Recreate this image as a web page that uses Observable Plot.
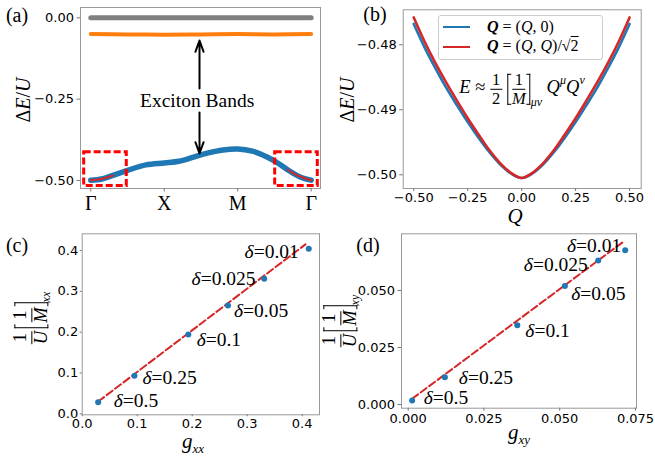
<!DOCTYPE html>
<html><head><meta charset="utf-8">
<script src="https://cdn.jsdelivr.net/npm/d3@7"></script>
<script src="https://cdn.jsdelivr.net/npm/@observablehq/plot@0.6"></script>
<style>
html,body{margin:0;padding:0;background:#fff;}
#fig{position:relative;width:655px;height:456px;background:#fff;overflow:hidden;}
#fig > svg{position:absolute;}
.ov{position:absolute;font-family:"Liberation Serif",serif;color:#000;white-space:nowrap;line-height:1;}
.c{transform:translate(-50%,-50%);}
.rot{transform:translate(-50%,-50%) rotate(-90deg);}
.frac{display:inline-flex;flex-direction:column;align-items:center;vertical-align:middle;}
.frac>span{line-height:0.95;}
.frac>span:first-child{border-bottom:1px solid #000;padding:0 2px 1px;}
.frac>span:last-child{padding-top:1px;}
.br{display:inline-block;width:4px;vertical-align:middle;border:1.2px solid #000;box-sizing:border-box;}
.br.l{border-right:none;margin-right:1px;}
.br.r{border-left:none;margin-left:1px;}
</style></head><body><div id="fig"></div>
<script>
// ---------------- data ----------------
// (a) exciton bands along Γ-X-M-Γ (path parameter 0..3)
const bandT = [0, 0.15, 0.3, 0.5, 0.75, 1.0, 1.2, 1.4, 1.6, 1.8, 2.0, 2.2, 2.4, 2.55, 2.7, 2.85, 3.0];
const bandE = [-0.499, -0.4955, -0.4845, -0.469, -0.452, -0.446, -0.441, -0.428, -0.415, -0.406, -0.403, -0.410, -0.428, -0.447, -0.470, -0.489, -0.499];
const orangeT = [0, 0.5, 1, 1.5, 2, 2.5, 3];
const orangeE = [-0.050, -0.051, -0.052, -0.051, -0.050, -0.051, -0.050];
const grayT = [0, 3];
const grayE = [0, 0];
const fitLT = [0, 0.1, 0.2, 0.3];
const fitLE = [-0.499, -0.4972, -0.4917, -0.4845];
const fitRT = [2.68, 2.8, 2.9, 3.0];
const fitRE = [-0.467, -0.483, -0.4925, -0.499];
const kTickPos = [0, 1, 2, 3];
const kTickLabels = ["Γ", "X", "M", "Γ"];
const yTicksA = [0, -0.25, -0.5];

// (b) dispersion near Γ
const qVals = [-0.5, -0.45, -0.4, -0.35, -0.3, -0.25, -0.2, -0.15, -0.1, -0.05, 0, 0.05, 0.1, 0.15, 0.2, 0.25, 0.3, 0.35, 0.4, 0.45, 0.5];
const eQ0 = [-0.4768, -0.4804, -0.4836, -0.4866, -0.4893, -0.4919, -0.4943, -0.4965, -0.4984, -0.4998, -0.5005, -0.4998, -0.4984, -0.4965, -0.4943, -0.4919, -0.4893, -0.4866, -0.4836, -0.4804, -0.4768];
const eQQ = [-0.4758, -0.4795, -0.4828, -0.4858, -0.4886, -0.4913, -0.4938, -0.4962, -0.4982, -0.4997, -0.5005, -0.4997, -0.4982, -0.4962, -0.4938, -0.4913, -0.4886, -0.4858, -0.4828, -0.4795, -0.4758];
const xTicksB = [-0.5, -0.25, 0, 0.25, 0.5];
const yTicksB = [-0.48, -0.49, -0.50];

// (c),(d) inverse mass vs g
const deltas = ["0.5", "0.25", "0.1", "0.05", "0.025", "0.01"];
const gxx = [0.029, 0.095, 0.193, 0.265, 0.331, 0.412];
const mxx = [0.028, 0.093, 0.194, 0.265, 0.331, 0.404];
const gxy = [0.0013, 0.0121, 0.036, 0.0517, 0.0627, 0.0716];
const mxy = [0.0018, 0.012, 0.0348, 0.052, 0.0632, 0.0677];
const fitXXx = [0.029, 0.406];
const fitXXy = [0.030, 0.415];
const fitXYx = [0.0013, 0.0711];
const fitXYy = [0.0025, 0.0715];
const ticksC = [0, 0.1, 0.2, 0.3, 0.4];
const xTicksD = [0, 0.025, 0.05, 0.075];
const yTicksD = [0, 0.025, 0.05];

// ---------------- helpers ----------------
const zip = (xs, ys) => xs.map((x, i) => ({x, y: ys[i]}));
const fig = document.getElementById("fig");
const baseStyle = {fontFamily: "DejaVu Sans, sans-serif", fontSize: "13px", background: "transparent", color: "#000", overflow: "visible"};
function place(svg, l, t) { svg.style.left = l + "px"; svg.style.top = t + "px"; fig.appendChild(svg); return svg; }
const serif = "Liberation Serif, serif";
const FRAME = "#999";
const TICK = "#777";

function deltaLabels(xs, ys, dxs, dys, anchors) {
  return deltas.map((d, i) => Plot.text([{x: xs[i], y: ys[i], t: "δ=" + d}],
    {x: "x", y: "y", text: "t", dx: dxs[i], dy: dys[i], textAnchor: anchors[i], fontFamily: serif, fontSize: 19.5, fill: "#000"}));
}
function italicDelta(svg) {
  svg.querySelectorAll("text").forEach(t => {
    const s = t.textContent;
    if (s.startsWith("δ")) {
      t.textContent = "";
      const a = document.createElementNS("http://www.w3.org/2000/svg", "tspan");
      a.setAttribute("font-style", "italic"); a.textContent = "δ";
      const b = document.createElementNS("http://www.w3.org/2000/svg", "tspan");
      b.textContent = s.slice(1);
      t.append(a, b);
    }
  });
}

// ---------------- panel (a) ----------------
const A = Plot.plot({
  style: baseStyle, width: 330, height: 225, marginLeft: 80, marginRight: 10, marginTop: 7, marginBottom: 37,
  x: {domain: [-0.14, 3.127]}, y: {domain: [-0.5246, 0.0317]},
  marks: [
    Plot.line(zip(grayT, grayE), {x: "x", y: "y", stroke: "#7f7f7f", strokeWidth: 5}),
    Plot.line(zip(orangeT, orangeE), {x: "x", y: "y", stroke: "#ff7f0e", strokeWidth: 4, curve: "catmull-rom"}),
    Plot.line(zip(bandT, bandE), {x: "x", y: "y", stroke: "#1f77b4", strokeWidth: 5.5, curve: "catmull-rom"}),
    Plot.line(zip(fitLT, fitLE), {x: "x", y: "y", stroke: "#d62728", strokeWidth: 2, curve: "catmull-rom"}),
    Plot.line(zip(fitRT, fitRE), {x: "x", y: "y", stroke: "#d62728", strokeWidth: 2, curve: "catmull-rom"}),
    Plot.rect([{x1: -0.09, x2: 0.49, y1: -0.517, y2: -0.413}, {x1: 2.51, x2: 3.09, y1: -0.517, y2: -0.413}],
      {x1: "x1", x2: "x2", y1: "y1", y2: "y2", fill: "none", stroke: "#ff0000", strokeWidth: 3, strokeDasharray: "7,3"}),
    Plot.arrow([{x1: 1.48, y1: -0.217, x2: 1.48, y2: -0.0698}, {x1: 1.48, y1: -0.291, x2: 1.48, y2: -0.417}],
      {x1: "x1", y1: "y1", x2: "x2", y2: "y2", stroke: "#000", strokeWidth: 2, headLength: 9, headAngle: 40}),
    Plot.text([{x: 1.448, y: -0.254, t: "Exciton Bands"}], {x: "x", y: "y", text: "t", fontFamily: serif, fontSize: 19.5, fill: "#000"}),
    Plot.frame({stroke: FRAME}),
    Plot.axisY({ticks: yTicksA, tickFormat: d3.format(".2f"), tickSize: 3.5, tickPadding: 3, label: null, stroke: TICK}),
    Plot.axisX({ticks: kTickPos, tickFormat: d => kTickLabels[kTickPos.indexOf(d)], fontFamily: serif, fontSize: 20, tickSize: 3.5, tickPadding: 4, label: null, stroke: TICK})
  ]
});
place(A, 0, 0);

// ---------------- panel (b) ----------------
const B = Plot.plot({
  style: baseStyle, width: 325, height: 225, marginLeft: 72.7, marginRight: 14.3, marginTop: 9.3, marginBottom: 37,
  x: {domain: [-0.549, 0.554]}, y: {domain: [-0.50211, -0.47462]},
  marks: [
    Plot.line(zip(qVals, eQ0), {x: "x", y: "y", stroke: "#1f77b4", strokeWidth: 2.6, curve: "catmull-rom"}),
    Plot.line(zip(qVals, eQQ), {x: "x", y: "y", stroke: "#d62728", strokeWidth: 2.6, curve: "catmull-rom"}),
    Plot.frame({stroke: FRAME}),
    Plot.axisY({ticks: yTicksB, tickFormat: d3.format(".2f"), tickSize: 3.5, tickPadding: 3, label: null, stroke: TICK}),
    Plot.axisX({ticks: xTicksB, tickFormat: d3.format(".2f"), tickSize: 3, tickPadding: 1.5, label: null, stroke: TICK})
  ]
});
place(B, 330, 0);

// ---------------- panel (c) ----------------
const C = Plot.plot({
  style: baseStyle, width: 330, height: 231, marginLeft: 81.7, marginRight: 11, marginTop: 8.3, marginBottom: 41.7,
  x: {domain: [0, 0.4315]}, y: {domain: [-0.00245, 0.4409]},
  marks: [
    Plot.line(zip(fitXXx, fitXXy), {x: "x", y: "y", stroke: "#d62728", strokeWidth: 2, strokeDasharray: "7.4,3.2"}),
    Plot.dot(zip(gxx, mxx), {x: "x", y: "y", r: 3, fill: "#1f77b4", stroke: "none"}),
    ...deltaLabels(gxx, mxx, [15.6, 8, 8.3, 6, -8.7, -10], [-1.4, 1.7, 4.8, 5.5, 0.4, 2.5], ["start", "start", "start", "start", "end", "end"]),
    Plot.frame({stroke: FRAME}),
    Plot.axisY({ticks: ticksC, tickFormat: d3.format(".1f"), tickSize: 2, tickPadding: 2, label: null, stroke: TICK}),
    Plot.axisX({ticks: ticksC, tickFormat: d3.format(".1f"), tickSize: 2, tickPadding: 2, label: null, stroke: TICK})
  ]
});
italicDelta(C);
place(C, 0, 225);

// ---------------- panel (d) ----------------
const D = Plot.plot({
  style: baseStyle, width: 325, height: 231, marginLeft: 71, marginRight: 19, marginTop: 8.3, marginBottom: 48.3,
  x: {domain: [-0.00221, 0.07533]}, y: {domain: [-0.00162, 0.07487]},
  marks: [
    Plot.line(zip(fitXYx, fitXYy), {x: "x", y: "y", stroke: "#d62728", strokeWidth: 2, strokeDasharray: "7.4,3.2"}),
    Plot.dot(zip(gxy, mxy), {x: "x", y: "y", r: 3, fill: "#1f77b4", stroke: "none"}),
    ...deltaLabels(gxy, mxy, [11.6, 14, 8, 6.4, -10.4, -4], [-3, 0.3, 5.8, 7.5, 4.7, -4], ["start", "start", "start", "start", "end", "end"]),
    Plot.frame({stroke: FRAME}),
    Plot.axisY({ticks: yTicksD, tickFormat: d3.format(".3f"), tickSize: 3.5, tickPadding: 3, label: null, stroke: TICK}),
    Plot.axisX({ticks: xTicksD, tickFormat: d3.format(".3f"), tickSize: 3, tickPadding: 2.5, label: null, stroke: TICK})
  ]
});
italicDelta(D);
place(D, 330, 225);

// ---------------- text overlays (labels, legend, equation) ----------------
const ylabMass = sub => `<span class="frac"><span>1</span><span><i>U</i></span></span><span class="br l" style="height:34px;margin-left:3px"></span><span class="frac"><span>1</span><span><i>M</i></span></span><span class="br r" style="height:34px"></span><span style="font-size:12px;vertical-align:-14px;font-style:italic">${sub}</span>`;
fig.insertAdjacentHTML("beforeend", `
<div class="ov c" style="left:17px;top:15px;font-size:20px">(a)</div>
<div class="ov c" style="left:375px;top:14px;font-size:20px">(b)</div>
<div class="ov c" style="left:17px;top:245px;font-size:20px">(c)</div>
<div class="ov c" style="left:368px;top:245px;font-size:20px">(d)</div>
<div class="ov rot" style="left:23px;top:100px;font-size:20px">Δ<i>E</i>/<i>U</i></div>
<div class="ov rot" style="left:347px;top:100px;font-size:20px">Δ<i>E</i>/<i>U</i></div>
<div class="ov c" style="left:515px;top:216px;font-size:21px"><i>Q</i></div>
<div class="ov c" style="left:193px;top:443px;font-size:21px"><i>g</i><span style="font-size:13px;vertical-align:-5px;font-style:italic">xx</span></div>
<div class="ov c" style="left:519px;top:434px;font-size:21px"><i>g</i><span style="font-size:13px;vertical-align:-5px;font-style:italic">xy</span></div>
<div class="ov rot" style="left:32px;top:318px;font-size:18.5px">${ylabMass("xx")}</div>
<div class="ov rot" style="left:341px;top:321px;font-size:18.5px">${ylabMass("xy")}</div>
<div class="ov" style="left:438px;top:15px;width:165px;height:45px;border:1px solid #ccc;border-radius:3px;background:rgba(255,255,255,0.85);box-sizing:border-box"></div>
<div class="ov" style="left:443px;top:25.5px;width:27px;height:2.6px;background:#1f77b4"></div>
<div class="ov" style="left:443px;top:45.5px;width:27px;height:2.6px;background:#d62728"></div>
<div class="ov" style="left:487px;top:19px;font-size:16px"><b><i>Q</i></b> = (<i>Q</i>, 0)</div>
<div class="ov" style="left:487px;top:38px;font-size:16px"><b><i>Q</i></b> = (<i>Q</i>, <i>Q</i>)/√<span style="text-decoration:overline">2</span></div>
<div class="ov c" style="left:522px;top:90px;font-size:18.5px"><i>E</i> ≈ <span class="frac" style="font-size:16.5px"><span>1</span><span>2</span></span> <span class="br l" style="height:31px"></span><span class="frac" style="font-size:16.5px"><span>1</span><span><i>M</i></span></span><span class="br r" style="height:31px"></span><span style="font-size:12px;vertical-align:-13px;font-style:italic">μν</span> <i>Q</i><span style="font-size:12px;vertical-align:9px;font-style:italic">μ</span><i>Q</i><span style="font-size:12px;vertical-align:9px;font-style:italic">ν</span></div>
`);
</script></body></html>
